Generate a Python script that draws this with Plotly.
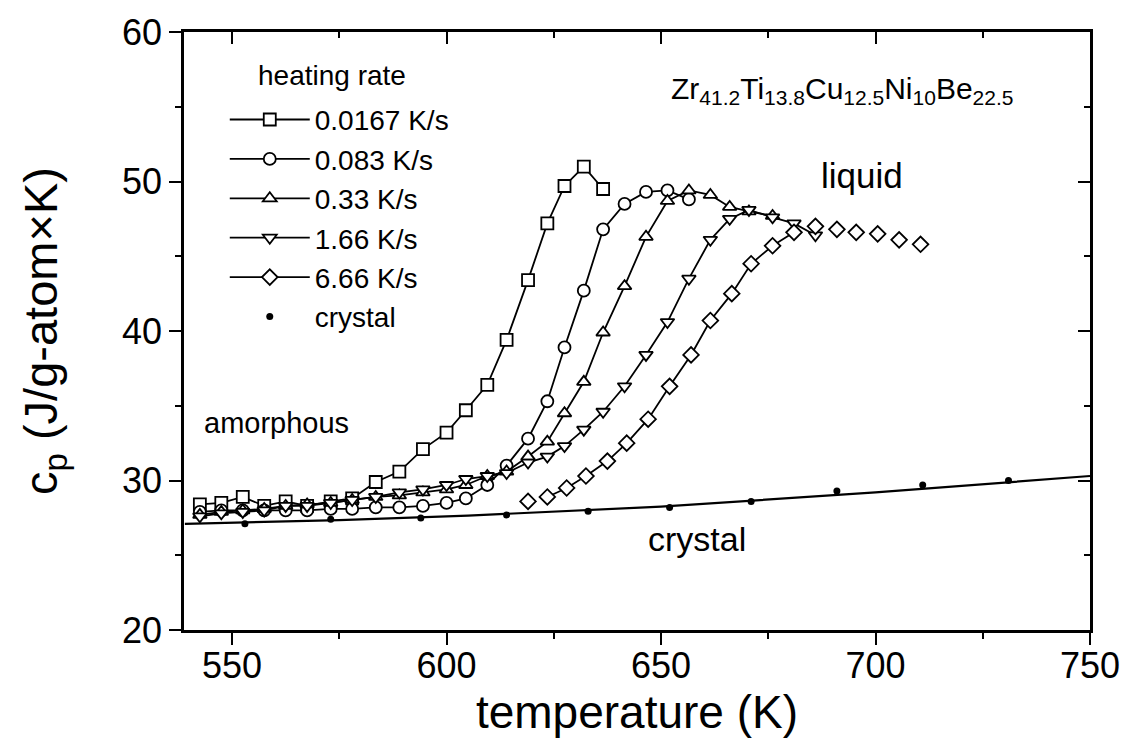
import plotly.graph_objects as go

# ---------------- data ----------------
T_sq = [542.5, 547.5, 552.5, 557.5, 562.5, 567.5, 573, 578, 583.5, 589, 594.5, 600,
        604.5, 609.5, 614, 619, 623.5, 627.5, 632, 636.5]
cp_sq = [28.4, 28.5, 28.9, 28.3, 28.6, 28.3, 28.6, 28.8, 29.9, 30.6, 32.1, 33.2,
         34.7, 36.4, 39.4, 43.4, 47.2, 49.7, 51.0, 49.5]

T_ci = [542.5, 547.5, 552.5, 557.5, 562.5, 567.5, 573, 578, 583.5, 589, 594.5, 600,
        604.5, 609.5, 614, 619, 623.5, 627.5, 632, 636.5, 641.5, 646.5, 651.5, 656.5]
cp_ci = [27.9, 28.0, 28.0, 28.0, 28.0, 28.0, 28.1, 28.1, 28.2, 28.2, 28.3, 28.5,
         28.8, 29.7, 31.0, 32.8, 35.3, 38.9, 42.7, 46.8, 48.5, 49.3, 49.4, 48.8]

T_tu = [542.5, 547.5, 552.5, 557.5, 562.5, 567.5, 573, 578, 583.5, 589, 594.5, 600,
        604.5, 609.5, 614, 619, 623.5, 627.5, 632, 636.5, 641.5, 646.5, 651.5, 656.5,
        661.5, 666, 670.5, 676]
cp_tu = [27.7, 27.9, 28.0, 28.1, 28.3, 28.4, 28.5, 28.7, 28.9, 29.0, 29.2, 29.4,
         29.7, 30.3, 30.6, 31.6, 32.6, 34.5, 36.6, 39.9, 43.0, 46.3, 48.7, 49.4,
         49.1, 48.3, 48.0, 47.7]

T_td = [542.5, 547.5, 552.5, 557.5, 562.5, 567.5, 573, 578, 583.5, 589, 594.5, 600,
        604.5, 609.5, 614, 619, 623.5, 627.5, 632, 636.5, 641.5, 646.5, 651.5, 656.5,
        661.5, 666, 670.5, 676, 681, 686]
cp_td = [27.6, 27.8, 27.9, 28.0, 28.3, 28.3, 28.5, 28.7, 28.9, 29.2, 29.4, 29.7,
         30.1, 30.3, 30.5, 31.2, 31.6, 32.3, 33.4, 34.6, 36.3, 38.4, 40.6, 43.5,
         46.1, 47.5, 48.1, 47.6, 47.2, 46.4]

T_di = [619, 623.5, 628, 632.5, 637.5, 642, 647, 652, 657, 661.5, 666.5, 671, 676,
        681, 686, 691, 695.5, 700.5, 705.5, 710.5]
cp_di = [28.6, 28.9, 29.5, 30.3, 31.3, 32.5, 34.1, 36.3, 38.4, 40.7, 42.5, 44.5,
         45.7, 46.6, 47.0, 46.8, 46.6, 46.5, 46.1, 45.8]
di_line_start, di_line_end = 1, 13   # connected part of the 6.66 K/s curve

T_cr = [553, 573, 594, 614, 633, 652, 671, 691, 711, 731]
cp_cr = [27.1, 27.4, 27.5, 27.7, 27.95, 28.2, 28.6, 29.3, 29.7, 30.0]

T_fit = [539, 575, 605, 650, 700, 750]
cp_fit = [27.1, 27.35, 27.65, 28.25, 29.2, 30.3]

names = ["0.0167 K/s", "0.083 K/s", "0.33 K/s", "1.66 K/s", "6.66 K/s"]
symbols = ["square", "circle", "triangle-up", "triangle-down", "diamond"]

x_range = [538.8, 750]
y_range = [20, 60]

FONT = "Arial, Liberation Sans, Helvetica, sans-serif"
LW = 1.8
MS = 12

fig = go.Figure()

def mk(sym):
    return dict(symbol=sym, size=MS, color="white", line=dict(color="black", width=LW))

series = [(T_sq, cp_sq), (T_ci, cp_ci), (T_tu, cp_tu), (T_td, cp_td)]
for (tx, cy), nm, sym in zip(series, names[:4], symbols[:4]):
    fig.add_trace(go.Scatter(x=tx, y=cy, mode="lines+markers", name=nm,
                             line=dict(color="black", width=LW), marker=mk(sym)))

# 6.66 K/s: connected section (in legend) + isolated points
fig.add_trace(go.Scatter(x=T_di[di_line_start:di_line_end + 1],
                         y=cp_di[di_line_start:di_line_end + 1],
                         mode="lines+markers", name=names[4],
                         line=dict(color="black", width=LW), marker=mk("diamond")))
iso_T = T_di[:di_line_start] + T_di[di_line_end + 1:]
iso_cp = cp_di[:di_line_start] + cp_di[di_line_end + 1:]
fig.add_trace(go.Scatter(x=iso_T, y=iso_cp, mode="markers", showlegend=False,
                         marker=mk("diamond")))

# crystal fit line (drawn on overlay axes that match the main ones)
fig.add_trace(go.Scatter(x=T_fit, y=cp_fit, mode="lines", showlegend=False,
                         xaxis="x2", yaxis="y2",
                         line=dict(color="black", width=2.2)))
fig.add_trace(go.Scatter(x=T_cr, y=cp_cr, mode="markers", name="crystal",
                         marker=dict(symbol="circle", size=7, color="black")))

axis_common = dict(showline=True, linecolor="black", linewidth=2.5,
                   showgrid=False, zeroline=False, tickcolor="black", tickwidth=2.2)

fig.update_layout(
    width=1136, height=755,
    margin=dict(l=184, r=46, t=22, b=125),
    paper_bgcolor="white", plot_bgcolor="white",
    font=dict(family=FONT, color="black"),
    xaxis=dict(range=x_range, tick0=550, dtick=50, ticks="outside", ticklen=12,
               tickfont=dict(size=36, family=FONT), ticklabelstandoff=-10,
               minor=dict(dtick=25, tick0=550, ticks="outside", ticklen=6,
                          tickcolor="black", tickwidth=2.2),
               title=dict(text="temperature (K)", font=dict(size=46, family=FONT),
                          standoff=10),
               **axis_common),
    yaxis=dict(range=y_range, tick0=20, dtick=10, ticks="outside", ticklen=12,
               tickfont=dict(size=36, family=FONT),
               minor=dict(dtick=5, tick0=20, ticks="outside", ticklen=6,
                          tickcolor="black", tickwidth=2.2),
               title=dict(text="c<sub>p</sub> (J/g-atom×K)", font=dict(size=47, family=FONT),
                          standoff=50),
               **axis_common),
    xaxis2=dict(matches="x", overlaying="x", side="top", anchor="y2",
                tick0=550, dtick=50, ticks="inside", ticklen=12, showticklabels=False,
                minor=dict(dtick=25, tick0=550, ticks="inside", ticklen=6,
                           tickcolor="black", tickwidth=2.2),
                **axis_common),
    yaxis2=dict(matches="y", overlaying="y", side="right", anchor="x2",
                tick0=20, dtick=10, ticks="inside", ticklen=12, showticklabels=False,
                minor=dict(dtick=5, tick0=20, ticks="inside", ticklen=6,
                           tickcolor="black", tickwidth=2.2),
                **axis_common),
    legend=dict(x=0.045, y=0.895, xanchor="left", yanchor="top",
                bgcolor="rgba(0,0,0,0)", borderwidth=0, itemwidth=80,
                font=dict(size=28, family=FONT, color="black"),
                tracegroupgap=0),
    showlegend=True,
)

fig.add_annotation(x=0.08, y=0.898, xref="paper", yref="paper", showarrow=False,
                   xanchor="left", yanchor="bottom",
                   text="heating rate", font=dict(size=28, family=FONT, color="black"))
fig.add_annotation(x=692.2, y=56.1, xref="x", yref="y", showarrow=False,
                   text="Zr<sub>41.2</sub>Ti<sub>13.8</sub>Cu<sub>12.5</sub>Ni<sub>10</sub>Be<sub>22.5</sub>",
                   font=dict(size=30, family=FONT, color="black"))
fig.add_annotation(x=696.9, y=50.4, xref="x", yref="y", showarrow=False,
                   text="liquid", font=dict(size=35, family=FONT, color="black"))
fig.add_annotation(x=560.3, y=33.85, xref="x", yref="y", showarrow=False,
                   text="amorphous", font=dict(size=29, family=FONT, color="black"))
fig.add_annotation(x=658.4, y=26.1, xref="x", yref="y", showarrow=False,
                   text="crystal", font=dict(size=34, family=FONT, color="black"))

fig.write_html("out.html")
